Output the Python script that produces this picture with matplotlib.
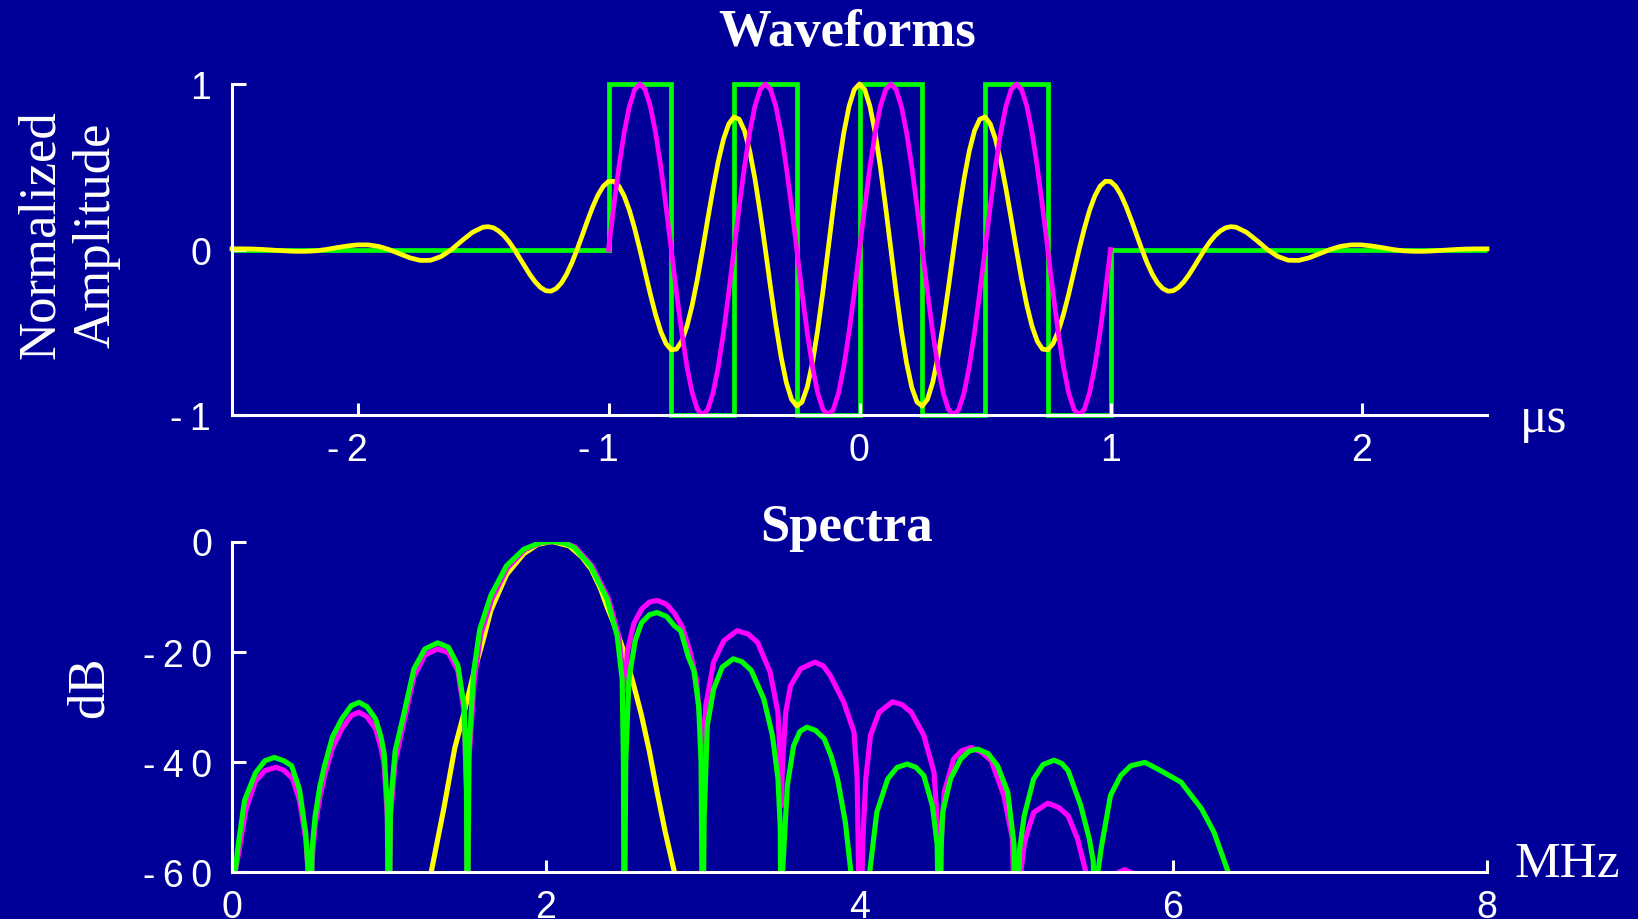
"""Waveforms (top) and their spectra in dB (bottom), on a dark blue slide background."""
import numpy as np
import matplotlib
matplotlib.use("Agg")
import matplotlib.pyplot as plt
from matplotlib.transforms import ScaledTranslation

BG = "#000099"
YELLOW, MAGENTA, GREEN = "#ffff00", "#ff00ff", "#00ff00"
SERIF = ["Liberation Serif", "DejaVu Serif"]
SANS = ["Liberation Sans", "DejaVu Sans"]

# ---- waveforms (us) ----
# gaussian-windowed burst: 1/24 us samples in the tails, 1/48 us in the middle
yellow_t = np.concatenate([np.arange(-60, -36) / 24, np.arange(-72, 73) / 48,
                           np.arange(37, 61) / 24])
yellow_amp = [
    # tail, -2.5 .. -1.54
    0.004, 0.004, 0.003, 0.000, -0.004, -0.008, -0.011, -0.011, -0.008, 0.000, 0.011, 0.021,
    0.028, 0.028, 0.019, 0.000, -0.025, -0.050, -0.066, -0.065, -0.042, 0.000, 0.054, 0.104,
    # -1.5 .. -0.02
    0.135, 0.138, 0.131, 0.112, 0.084, 0.046, 0.000, -0.051, -0.103, -0.153, -0.196, -0.229,
    -0.249, -0.252, -0.236, -0.202, -0.149, -0.080, 0.000, 0.087, 0.176, 0.259, 0.330, 0.382,
    0.411, 0.412, 0.382, 0.323, 0.237, 0.127, 0.000, -0.135, -0.270, -0.393, -0.496, -0.569,
    -0.606, -0.602, -0.554, -0.464, -0.337, -0.179, 0.000, 0.187, 0.369, 0.534, 0.667, 0.759,
    0.801, 0.787, 0.718, 0.596, 0.428, 0.225, 0.000, -0.232, -0.453, -0.648, -0.803, -0.905,
    -0.946, -0.922, -0.833, -0.685, -0.488, -0.254, 0.000, 0.256, 0.497, 0.705, 0.865, 0.966,
    # 0
    1.000,
    # 0.02 .. 1.5
    0.966, 0.865, 0.705, 0.497, 0.256, 0.000, -0.254, -0.488, -0.685, -0.833, -0.922, -0.946,
    -0.905, -0.803, -0.648, -0.453, -0.232, 0.000, 0.225, 0.428, 0.596, 0.718, 0.787, 0.801,
    0.759, 0.667, 0.534, 0.369, 0.187, 0.000, -0.179, -0.337, -0.464, -0.554, -0.602, -0.606,
    -0.569, -0.496, -0.393, -0.270, -0.135, 0.000, 0.127, 0.237, 0.323, 0.382, 0.412, 0.411,
    0.382, 0.330, 0.259, 0.176, 0.087, 0.000, -0.080, -0.149, -0.202, -0.236, -0.252, -0.249,
    -0.229, -0.196, -0.153, -0.103, -0.051, 0.000, 0.046, 0.084, 0.112, 0.131, 0.138, 0.135,
    # tail, 1.54 .. 2.5
    0.104, 0.054, 0.000, -0.042, -0.065, -0.066, -0.050, -0.025, 0.000, 0.019, 0.028, 0.028,
    0.021, 0.011, 0.000, -0.008, -0.011, -0.011, -0.008, -0.004, 0.000, 0.003, 0.004, 0.004,
]
# sine burst, 4 cycles between -1 and 1 us, sampled every 1/48 us
magenta_t = np.arange(-48, 49) / 48
magenta_amp = [
    0, 0.259, 0.5, 0.707, 0.866, 0.966, 1, 0.966, 0.866, 0.707, 0.5, 0.259,
    0, -0.259, -0.5, -0.707, -0.866, -0.966, -1, -0.966, -0.866, -0.707, -0.5, -0.259,
    0, 0.259, 0.5, 0.707, 0.866, 0.966, 1, 0.966, 0.866, 0.707, 0.5, 0.259,
    0, -0.259, -0.5, -0.707, -0.866, -0.966, -1, -0.966, -0.866, -0.707, -0.5, -0.259,
    0, 0.259, 0.5, 0.707, 0.866, 0.966, 1, 0.966, 0.866, 0.707, 0.5, 0.259,
    0, -0.259, -0.5, -0.707, -0.866, -0.966, -1, -0.966, -0.866, -0.707, -0.5, -0.259,
    0, 0.259, 0.5, 0.707, 0.866, 0.966, 1, 0.966, 0.866, 0.707, 0.5, 0.259,
    0, -0.259, -0.5, -0.707, -0.866, -0.966, -1, -0.966, -0.866, -0.707, -0.5, -0.259,
    0,
]
# square burst: level held between consecutive edges
square_edges = [-2.5, -1.0, -0.75, -0.5, -0.25, 0.0, 0.25, 0.5, 0.75, 1.0, 2.5]
square_level = [0, 1, -1, 1, -1, 1, -1, 1, -1, 0]

# ---- spectra (MHz, dB) ----  values below -60 sit under the axis
yellow_f = [1.27, 1.35, 1.42, 1.48, 1.54, 1.60, 1.65, 1.75, 1.86, 1.95, 2.04, 2.15, 2.23,
            2.29, 2.35, 2.39, 2.45, 2.51, 2.56, 2.61, 2.66, 2.71, 2.76, 2.82, 2.84]
yellow_db = [-60, -48.5, -37.5, -31, -24, -18, -12.5, -6, -2.2, -0.5, 0, -0.8, -2.8,
             -5, -8.6, -11.8, -16, -21, -26, -31.5, -38, -45.5, -52.5, -60, -63]

magenta_f = [
    0.02, 0.04, 0.09, 0.15, 0.21, 0.28, 0.33, 0.385, 0.43, 0.47, 0.49, 0.50,
    0.51, 0.53, 0.56, 0.59, 0.64, 0.70, 0.76, 0.81, 0.86, 0.915, 0.95, 0.97, 0.99, 1.00,
    1.01, 1.04, 1.09, 1.16, 1.23, 1.31, 1.38, 1.44, 1.48, 1.495, 1.50,
    1.51, 1.545, 1.585, 1.655, 1.755, 1.865, 1.975, 2.06, 2.13, 2.19, 2.295, 2.40, 2.465, 2.495, 2.505,
    2.52, 2.56, 2.61, 2.66, 2.71, 2.77, 2.82, 2.87, 2.92, 2.96, 2.985, 3.00,
    3.01, 3.02, 3.07, 3.135, 3.22, 3.29, 3.35, 3.43, 3.48, 3.495, 3.50,
    3.51, 3.53, 3.56, 3.625, 3.715, 3.77, 3.815, 3.90, 3.965, 3.985, 4.005,
    4.02, 4.04, 4.07, 4.125, 4.21, 4.27, 4.33, 4.41, 4.475, 4.505, 4.51,
    4.52, 4.54, 4.60, 4.65, 4.71, 4.78, 4.84, 4.92, 4.975, 4.995,
    5.02, 5.05, 5.07, 5.11, 5.20, 5.27, 5.33, 5.39, 5.443, 5.46,
    5.60, 5.64, 5.69, 5.74, 5.78,
]
magenta_db = [
    -60, -57, -48.5, -43.5, -41.6, -41, -41.5, -43, -47, -54, -62, -80,
    -58, -51.5, -46.5, -42.5, -37.5, -34, -31.6, -31, -31.8, -34, -37.5, -40.5, -50, -80,
    -50, -40, -33.5, -24.5, -20.6, -19.5, -20.2, -23.5, -31, -46, -80,
    -40, -25, -17, -10.5, -4.8, -1.5, -0.15, 0, -0.3, -1.05, -4.4, -10.4, -17.1, -25, -27,
    -20, -15, -12.3, -11, -10.7, -11.4, -13, -15.5, -20, -25, -33, -42,
    -36, -29.8, -21.9, -18, -16.2, -16.8, -18.3, -23.7, -31, -40, -48,
    -40, -31, -26.2, -23.1, -21.9, -22.6, -24.4, -29.2, -34.6, -43, -80,
    -55, -43.1, -35.2, -31, -29.1, -29.6, -31, -35.2, -41.9, -55, -80,
    -55, -45.5, -39.5, -38, -37.4, -38.3, -39.8, -46.1, -54, -80,
    -62, -55, -52.8, -49.2, -47.5, -48.3, -49.8, -54, -60, -65,
    -61.5, -60.2, -59.6, -60.2, -61.5,
]

green_f = [
    0.02, 0.04, 0.08, 0.15, 0.21, 0.27, 0.33, 0.38, 0.43, 0.47, 0.49, 0.50,
    0.51, 0.53, 0.56, 0.59, 0.64, 0.70, 0.76, 0.81, 0.86, 0.915, 0.95, 0.97, 0.99, 1.00,
    1.01, 1.04, 1.09, 1.16, 1.23, 1.31, 1.38, 1.44, 1.48, 1.495, 1.50,
    1.51, 1.54, 1.58, 1.65, 1.75, 1.86, 1.97, 2.05, 2.12, 2.18, 2.285, 2.39, 2.455, 2.487, 2.495, 2.50,
    2.51, 2.53, 2.57, 2.61, 2.66, 2.71, 2.77, 2.82, 2.86, 2.91, 2.945, 2.975, 2.99, 3.00,
    3.01, 3.03, 3.07, 3.125, 3.195, 3.25, 3.31, 3.39, 3.445, 3.48, 3.495, 3.50,
    3.51, 3.54, 3.58, 3.62, 3.665, 3.72, 3.775, 3.82, 3.86, 3.91, 3.945, 4.00,
    4.065, 4.11, 4.18, 4.24, 4.305, 4.36, 4.41, 4.465, 4.495, 4.51,
    4.52, 4.53, 4.58, 4.645, 4.70, 4.755, 4.82, 4.88, 4.945, 4.985, 5.005,
    5.02, 5.05, 5.11, 5.17, 5.24, 5.29, 5.33, 5.41, 5.465, 5.49, 5.505,
    5.52, 5.54, 5.60, 5.665, 5.73, 5.82, 5.92, 6.05, 6.18, 6.26, 6.35, 6.37,
]
green_db = [
    -60, -55, -47, -42, -39.8, -39.2, -39.8, -40.7, -45, -53, -62, -80,
    -56, -49.8, -44.5, -40.7, -35.5, -32.2, -29.8, -29.2, -30, -32.2, -35.5, -38.5, -48, -80,
    -48, -38, -32, -23.1, -19.5, -18.4, -19.2, -22.5, -30, -45, -80,
    -38, -23.7, -15.9, -9.8, -4.4, -1.4, -0.15, 0, -0.3, -1.05, -4.4, -10.4, -17.1, -25, -40, -80,
    -40, -25, -18, -14.8, -13.3, -12.9, -13.6, -15.3, -16.2, -21, -23.5, -30, -40, -80,
    -50, -33.4, -26.8, -22.8, -21.3, -21.8, -23.4, -28.6, -35.2, -43, -52, -80,
    -60, -44.3, -37.1, -34.5, -33.7, -34.3, -35.8, -39, -43.1, -51, -60, -75,
    -60, -49.2, -43.1, -41, -40.4, -41, -42.5, -48, -55, -80,
    -56, -49.2, -43.1, -39.5, -38, -37.7, -38.5, -40.7, -45.5, -55, -80,
    -56, -49.8, -43.1, -40.5, -39.7, -40.3, -41.6, -47.9, -54, -58, -80,
    -60, -55.8, -46.1, -42.5, -40.7, -40.1, -41.6, -43.7, -48.5, -52.8, -60, -63,
]

wave_ticks = [-2, -1, 0, 1, 2]
wave_ticklabels = ["-\u20092", "-\u20091", "0", "1", "2"]
amp_ticks = [-1, 0, 1]
amp_ticklabels = ["-\u20091", "0", "1"]
freq_ticks = [0, 2, 4, 6, 8]
freq_ticklabels = ["0", "2", "4", "6", "8"]
db_ticks = [-60, -40, -20, 0]
db_ticklabels = ["-\u20096\u20090", "-\u20094\u20090", "-\u20092\u20090", "0"]

W, H = 1638, 920


def box(left, top, right, bottom):
    """figure-fraction rect from pixel edges measured on the 1638x920 canvas"""
    return [left / W, 1 - bottom / H, (right - left) / W, (bottom - top) / H]


def style_axes(ax, ypad):
    ax.set_facecolor(BG)
    for s in ("top", "right"):
        ax.spines[s].set_visible(False)
    for s in ("left", "bottom"):
        ax.spines[s].set_color("white")
        ax.spines[s].set_linewidth(2.2)
    ax.tick_params(axis="both", direction="in", colors="white", width=2.2, labelsize=27)
    ax.tick_params(axis="x", length=8.3, pad=12)
    ax.tick_params(axis="y", length=10, pad=ypad)
    for lbl in ax.get_xticklabels() + ax.get_yticklabels():
        lbl.set_fontfamily(SANS)


fig = plt.figure(figsize=(W / 100, H / 100), dpi=100, facecolor=BG)

# ---- top: waveforms ----
ax1 = fig.add_axes(box(232, 85, 1487, 416))
ax1.plot(yellow_t, yellow_amp, color=YELLOW, lw=3.4, clip_on=False)
ax1.plot(magenta_t, magenta_amp, color=MAGENTA, lw=3.4, clip_on=False)
ax1.stairs(square_level, square_edges, baseline=None, color=GREEN, lw=3.4, clip_on=False)
ax1.set_xlim(-2.5, 2.5)
ax1.set_ylim(-1, 1)
ax1.set_xticks(wave_ticks, wave_ticklabels)
ax1.set_yticks(amp_ticks, amp_ticklabels)
style_axes(ax1, 15)

# ---- bottom: spectra ----
ax2 = fig.add_axes(box(232, 542.5, 1487, 873))
ax2.plot(yellow_f, yellow_db, color=YELLOW, lw=3.7)
ax2.plot(magenta_f, magenta_db, color=MAGENTA, lw=3.7)
ax2.plot(green_f, green_db, color=GREEN, lw=3.7)
ax2.set_xlim(0, 8)
ax2.set_ylim(-60, 0)
ax2.set_xticks(freq_ticks, freq_ticklabels)
ax2.set_yticks(db_ticks, db_ticklabels)
style_axes(ax2, 14)

# x labels: digit centred on the tick, minus sign hanging to the left
shift = ScaledTranslation(10 / 100, 0, fig.dpi_scale_trans)
for ax in (ax1, ax2):
    for lbl in ax.get_xticklabels():
        lbl.set_horizontalalignment("right")
        lbl.set_transform(lbl.get_transform() + shift)

# ---- titles and axis names ----
fig.text(847 / W, 1 - 46 / H, "Waveforms", ha="center", va="baseline", color="white",
         fontsize=38, fontweight="bold", family=SERIF)
fig.text(846 / W, 1 - 541 / H, "Spectra", ha="center", va="baseline", color="white",
         fontsize=38, fontweight="bold", family=SERIF)
fig.text(69 / W, 1 - 235 / H, "Normalized\nAmplitude", rotation=90, ha="center", va="center",
         multialignment="center", color="white", fontsize=38, family=SERIF)
fig.text(90 / W, 1 - 687 / H, "dB", rotation=90, ha="center", va="center", color="white",
         fontsize=38, family=SERIF)
fig.text(1520 / W, 1 - 432 / H, "\u03bcs", ha="left", va="baseline", color="white",
         fontsize=37, family=SERIF)
fig.text(1515 / W, 1 - 877 / H, "MHz", ha="left", va="baseline", color="white",
         fontsize=37, family=SERIF)

fig.savefig("out.png", dpi=100, facecolor=BG)
